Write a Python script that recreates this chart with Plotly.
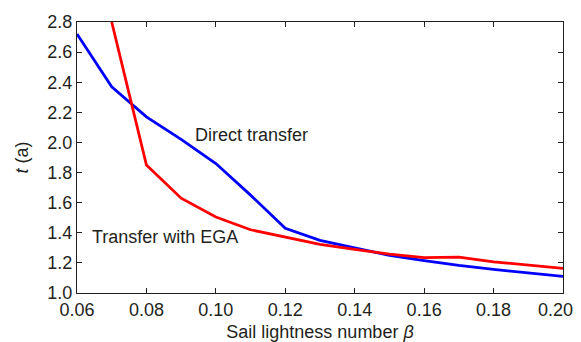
import plotly.graph_objects as go

beta_direct = [0.06, 0.07, 0.08, 0.09, 0.10, 0.11, 0.12, 0.13, 0.14, 0.15, 0.16, 0.17, 0.18, 0.19, 0.20]
t_direct = [2.72, 2.37, 2.17, 2.02, 1.86, 1.65, 1.43, 1.35, 1.30, 1.25, 1.215, 1.183, 1.157, 1.134, 1.11]

beta_ega = [0.07, 0.08, 0.09, 0.10, 0.11, 0.12, 0.13, 0.14, 0.15, 0.16, 0.17, 0.18, 0.19, 0.20]
t_ega = [2.80, 1.85, 1.63, 1.505, 1.42, 1.374, 1.323, 1.29, 1.258, 1.235, 1.238, 1.207, 1.185, 1.163]

xticks = [0.06, 0.08, 0.10, 0.12, 0.14, 0.16, 0.18, 0.20]
xticklabels = ["0.06", "0.08", "0.10", "0.12", "0.14", "0.16", "0.18", "0.20"]
yticks = [1.0, 1.2, 1.4, 1.6, 1.8, 2.0, 2.2, 2.4, 2.6, 2.8]
yticklabels = ["1.0", "1.2", "1.4", "1.6", "1.8", "2.0", "2.2", "2.4", "2.6", "2.8"]

ink = "#231f20"
font_family = "Arial, Liberation Sans, sans-serif"

fig = go.Figure()
fig.add_trace(go.Scatter(x=beta_direct, y=t_direct, mode="lines",
                         line=dict(color="#0000ff", width=2.8), showlegend=False))
fig.add_trace(go.Scatter(x=beta_ega, y=t_ega, mode="lines",
                         line=dict(color="#ff0000", width=2.8), showlegend=False))

fig.add_annotation(x=0.0935, y=2.05, text="Direct transfer", showarrow=False,
                   xanchor="left", yanchor="middle",
                   font=dict(size=18, color=ink, family=font_family))
fig.add_annotation(x=0.0637, y=1.37, text="Transfer with EGA", showarrow=False,
                   xanchor="left", yanchor="middle",
                   font=dict(size=18, color=ink, family=font_family))

axis_common = dict(showgrid=False, zeroline=False, showline=True, linecolor=ink,
                   linewidth=1.3, mirror="ticks", ticks="inside", ticklen=5,
                   tickwidth=1.3, tickcolor=ink, automargin=False,
                   ticklabeloverflow="allow",
                   tickfont=dict(size=18, color=ink, family=font_family))

# last x label is padded on its right so it stays inside the picture, as in the reference
xtext = xticklabels[:-1] + [xticklabels[-1] + "\u00a0" * 3]

fig.update_xaxes(range=[0.06, 0.20], tickvals=xticks, ticktext=xtext,
                 title=dict(text="Sail lightness number <i>β</i>", standoff=6,
                            font=dict(size=18, color=ink, family=font_family)),
                 **axis_common)
fig.update_yaxes(range=[1.0, 2.8], tickvals=yticks, ticktext=yticklabels,
                 title=dict(text="<i>t</i> (a)", standoff=13,
                            font=dict(size=18, color=ink, family=font_family)),
                 **axis_common)

# the page body adds an 8px offset, so the figure is sized to fill the rest
fig.update_layout(width=573, height=334,
                  margin=dict(l=69, r=18, t=14, b=49),
                  plot_bgcolor="white", paper_bgcolor="white")

fig.write_html("out.html")
